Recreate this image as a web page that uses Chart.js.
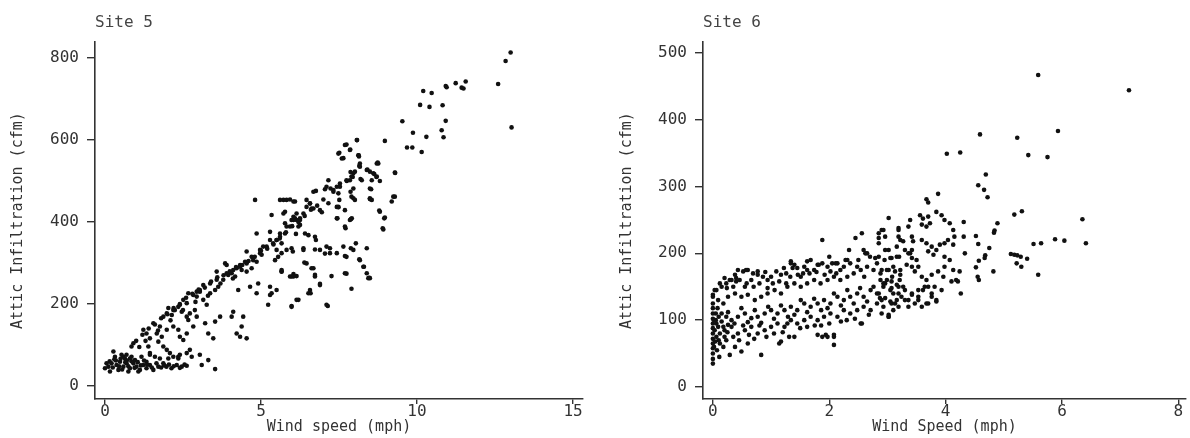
<!DOCTYPE html>
<html>
<head>
<meta charset="utf-8">
<script src="https://cdn.jsdelivr.net/npm/chart.js@4"></script>
<style>
  html, body { margin:0; padding:0; background:#fff; }
  .box { position:absolute; top:0; width:595px; height:438px; }
</style>
</head>
<body>
<div class="box" style="left:0"><canvas id="site5" width="595" height="438"></canvas></div>
<div class="box" style="left:595px"><canvas id="site6" width="595" height="438"></canvas></div>
<script>
// ---- data ----
var site5Title = "Site 5";
var site6Title = "Site 6";
var yTitle = "Attic Infiltration (cfm)";
var site5XTitle = "Wind speed (mph)";
var site6XTitle = "Wind Speed (mph)";

var site5XTicks = [0, 5, 10, 15];
var site5YTicks = [0, 200, 400, 600, 800];
var site6XTicks = [0, 2, 4, 6, 8];
var site6YTicks = [0, 100, 200, 300, 400, 500];

// site 5: [wind speed, infiltration]
var site5Upper = [
  [13.0,814],[12.84,793],[12.6,737],[13.03,631],[11.56,743],[11.43,728],[11.49,726],[11.24,739],[10.95,729],[10.92,732],
  [10.2,720],[10.47,715],[10.1,686],[10.4,681],[10.82,685],[9.53,646],[10.92,647],[10.79,624],[10.85,607],[9.87,618],
  [10.3,608],[9.68,582],[9.85,582],[10.15,571],[8.97,598],[9.3,520],[8.74,545],[8.08,600],[7.74,589],[7.86,577],
  [7.51,569],[7.64,556],[8.13,563],[8.14,560],[8.15,537],[8.41,528],[8.49,523],[8.63,517],[8.7,510],[8.81,500],
  [8.19,505],[7.87,522],[7.94,510],[7.85,502],[7.75,500],[7.53,494],[7.43,486],[7.32,474],[7.23,482],[7.48,470],
  [7.51,454],[7.16,502],[7.05,480],[6.76,476],[6.68,474],[6.46,454],[6.57,446],[6.62,433],[5.72,454],[5.93,455],
  [6.09,450],[7.87,474],[7.96,458],[8.01,454],[8.53,480],[8.49,456],[8.55,454],[9.29,462],[9.19,450],[7.48,436],
  [8.79,428],[8.97,411],[7.91,409],[6.04,413],[6.25,409]
];
var site5Spread = [
  [5.98,195],[6.2,210],[7.14,195],[6.57,234],[6.59,226],[6.89,249],[7.9,237],[7.26,268],[7.74,274],[8.47,264],
  [8.3,291],[8.15,309],[8.04,348],[7.88,336],[8.39,336],[7.69,317],[7.21,336],[7.05,323],[6.73,333],[6.68,287],
  [6.73,271],[6.39,301],[6.36,336],[6.04,273],[6.14,268],[5.93,267],[5.66,279],[6.02,328],[5.82,332],[6.12,371],
  [6.52,368],[6.76,356],[7.45,409],[7.88,407],[7.71,385],[7.48,437],[8.92,382],[6.95,424],[6.68,433],[7.16,446],
  [5.77,425],[6.09,409],[6.2,389]
];
var site5Lower = [
  [0.27,84],[0.11,47],[0.21,55],[0.37,51],[0.48,59],[0.59,47],[0.69,55],[0.8,43],[0.91,55],[1.01,47],
  [1.12,39],[1.23,51],[1.33,43],[1.44,51],[1.55,39],[1.71,47],[1.87,55],[1.97,47],[2.13,43],[2.3,51],
  [2.46,47],[2.62,49],[0.16,35],[0.32,71],[0.43,39],[0.53,76],[0.64,67],[0.75,35],[0.85,71],[0.96,63],
  [1.07,35],[1.17,71],[1.33,59],[1.44,76],[1.6,71],[1.76,67],[2.03,67],[2.35,67],[0.05,55],[0.0,43],
  [0.8,67],[0.69,76],[0.59,71],[0.91,104],[0.85,96],[1.23,137],[1.33,128],[1.44,116],[1.39,96],[1.44,80],
  [1.66,128],[1.82,120],[1.71,108],[1.87,96],[1.98,88],[2.08,80],[2.19,71],[2.35,71],[2.4,76],[1.55,153],
  [1.76,145],[1.98,137],[2.19,145],[2.35,137],[2.4,120],[2.62,128],[2.72,88],[2.62,80],[2.78,71],[3.04,76],
  [3.1,51],[3.31,63],[3.53,41],[2.51,112],[2.67,161],[2.83,145],[2.94,169],[2.03,190],[2.24,185],[2.14,173],
  [2.35,193],[2.46,181],[2.62,169],[2.72,177],[2.67,226],[2.94,218],[3.04,230],[3.15,210],[3.26,198],[3.37,226],
  [2.88,185],[3.21,153],[3.31,128],[3.47,116],[3.53,157],[3.69,169],[3.58,279],[3.37,250],[3.53,234],[3.63,242],
  [3.79,259],[3.95,271],[3.9,295],[4.06,275],[4.22,287],[4.38,283],[4.17,267],[4.27,234],[4.11,181],[4.06,169],
  [4.22,128],[4.33,120],[4.54,116],[4.38,145],[4.65,242],[4.86,226],[4.91,250],[4.43,169],[4.7,287],[4.86,303],
  [5.02,320],[4.97,332],[5.18,340],[5.39,348],[5.5,356],[5.66,348],[5.77,372],[5.93,389],[5.66,279],[6.04,267],
  [6.14,210],[5.98,193],[5.23,198],[5.34,226],[5.5,234],[4.81,454],[5.61,454],[5.82,454],[6.04,450],[5.34,417],
  [5.77,397],[6.04,405],[4.86,372],[5.29,376],[5.61,372],[4.54,328],[4.7,315],[4.49,303],[4.33,295],[4.54,279],
  [3.85,299],[3.58,259],[3.15,246],[3.04,234],[2.94,230],[2.83,222],[2.51,210],[2.62,202],[2.4,198],[2.19,185],
  [1.98,177],[1.87,169]
];
var site5Ridge = [
  [3.9,275],[4.11,283],[4.33,291],[4.54,299],[4.75,307],[4.97,324],[5.07,340],[5.29,356],[5.5,356],[5.61,364],
  [5.82,389],[6.14,405],[6.36,421],[6.46,437],[6.57,445],[6.89,429],[7.1,486],[7.32,478],[7.53,486],[7.74,502],
  [7.96,519],[8.17,535],[8.39,527],[8.6,519],[8.71,543],[6.14,421],[6.25,405],[5.72,421],[5.98,405],[6.25,393],
  [6.41,372],[6.73,364],[6.89,332],[7.1,340],[7.21,324],[7.43,324],[7.64,340],[7.74,315],[7.96,332],[8.17,307],
  [8.28,291],[8.49,263],[6.36,332],[6.46,299],[6.62,287],[6.73,267],[6.89,246],[7.1,198],[7.69,275],[6.52,226],
  [5.98,267],[5.66,283],[5.29,242],[5.29,222],[5.5,332],[5.45,307],[5.55,315],[5.66,324],[5.98,336],[7.43,437],
  [7.69,429],[7.85,405],[7.69,389],[7.43,409],[8.39,275],[8.44,263],[8.9,385],[8.95,409],[8.81,425],[9.24,462],
  [9.29,521],[8.71,511],[8.55,502],[8.49,482],[8.23,502],[8.01,523],[7.9,511],[7.96,482],[7.9,462],[8.49,458],
  [8.07,600],[7.69,588],[7.85,576],[7.48,567],[7.59,555],[8.12,563],[8.17,543],[8.76,543]
];
// extra marks along the dense band and ridge of site 5
var site5Fill = [
  [0.15,60],[0.25,45],[0.35,62],[0.45,48],[0.55,40],[0.65,58],[0.75,48],[0.85,60],[0.95,44],[1.05,58],
  [1.15,50],[1.25,62],[1.35,52],[1.5,45],[1.65,55],[1.8,45],[1.9,50],[2.05,52],[2.2,48],[2.4,44],
  [2.55,52],[0.3,65],[0.5,66],[0.7,62],
  [1.0,110],[1.2,125],[1.4,140],[1.6,150],[1.8,165],[2.0,175],[2.2,190],[2.4,200],[2.6,215],[2.8,225],
  [3.0,235],[3.2,240],[3.4,255],[3.6,265],[3.8,270],[4.0,280],[4.2,290],[4.4,295],[4.6,305],[4.8,315],
  [5.0,330],[5.2,335],[5.4,345],[5.6,360],[5.8,375],[6.0,390],[6.2,400],[6.4,415],[6.6,430],[6.8,440],
  [7.0,455],[1.1,95],[1.3,110],[1.7,135],[2.1,160],[2.5,185],[2.9,205],[3.3,220],[3.7,250],[4.1,262]
];

// site 6: [wind speed, infiltration]
var site6Outer = [
  [5.59,467],[7.15,444],[5.93,383],[5.23,373],[4.59,378],[4.02,349],[4.25,351],[5.42,347],[5.75,344],[4.69,318],
  [4.56,302],[4.66,295],[4.72,284],[3.67,281],[3.7,276],[3.87,289],[5.31,263],[5.18,258],[6.35,251],[6.41,215],
  [5.88,221],[6.04,219],[5.51,214],[5.64,215],[5.59,168],[5.4,192],[5.12,199],[5.18,198],[5.23,197],[5.29,195],
  [5.22,185],[5.3,180],[4.89,245],[4.84,234],[4.83,231],[4.82,173],[4.52,226],[4.56,214],[4.68,197],[4.67,193],
  [4.57,189],[4.52,179],[4.55,165],[4.57,160],[4.75,208],[4.31,247],[4.31,225],[4.33,200],[4.24,173],[4.26,140]
];
var site6Mid = [
  [3.02,253],[2.9,235],[2.96,225],[2.85,215],[3.19,238],[3.19,225],[3.27,218],[3.39,250],[3.36,240],[3.42,225],
  [3.44,218],[3.42,205],[3.39,200],[3.5,190],[3.56,257],[3.61,252],[3.7,255],[3.59,243],[3.67,240],[3.73,245],
  [3.84,262],[3.93,257],[3.98,250],[4.07,245],[4.13,235],[4.15,225],[4.04,220],[3.98,215],[4.13,213],[3.59,220],
  [3.67,215],[3.76,210],[3.84,205],[3.9,213],[3.7,203],[3.79,198],[3.98,195],[4.07,190],[3.98,180],[4.13,175],
  [4.18,160],[4.1,158],[4.21,158],[3.36,200],[3.42,193],[3.33,183],[3.42,180],[3.47,173],[3.53,180],[3.07,193],
  [3.16,195],[3.02,175],[3.13,173],[3.22,168],[2.93,155],[3.07,158],[3.19,150],[3.3,145],[3.42,140],[3.36,130],
  [3.53,135],[3.61,145],[3.7,150],[3.76,140],[3.84,128],[3.67,125],[3.47,125],[3.24,135],[3.07,125],[2.96,133],
  [2.85,140],[3.02,105],[3.19,120],[3.59,165],[3.67,160],[3.76,168],[3.87,173],[3.96,165],[3.81,150],[3.93,145],
  [2.85,195],[2.9,175],[2.88,160],[2.96,205],[2.85,230],[3.84,130],[3.59,120],[3.02,108],[2.96,155],[3.07,148],
  [3.19,140],[3.3,130],[3.42,138],[3.53,145],[3.64,150],[3.76,135],[3.13,125],[3.36,120],[3.7,125],[2.9,130],
  [3.53,130]
];
var site6Low = [
  [0,35],[0,42],[0,50],[0,58],[0,65],[0,72],[0,80],[0,88],[0,95],[0,102],[0,110],[0,118],[0,125],
  [0.03,145],[0.15,150],[0.2,163],[0.29,160],[0.38,168],[0.43,175],[0.52,173],[0.6,175],[0.69,170],[0.77,173],
  [0.86,165],[0.94,160],[1.0,165],[1.09,173],[1.17,168],[1.26,170],[1.34,188],[1.4,183],[1.45,178],[1.57,180],
  [1.68,190],[1.8,183],[1.88,185],[1.97,180],[2.05,185],[2.14,185],[1.88,220],
  [0.09,130],[0.18,125],[0.26,135],[0.38,140],[0.49,135],[0.6,138],[0.72,130],[0.83,135],[0.94,140],[1.06,145],
  [1.17,140],[1.28,150],[1.4,155],[1.51,150],[1.62,155],[1.74,160],[1.85,155],[1.97,160],[2.08,165],[2.19,160],
  [2.31,165],[2.42,170],[2.54,175],[2.65,180],[2.76,175],[2.88,170],[2.99,175],[3.1,180],[3.22,175],
  [0.15,110],[0.23,105],[0.32,100],[0.43,105],[0.55,110],[0.66,103],[0.77,105],[0.89,110],[1.0,115],[1.11,110],
  [1.23,115],[1.34,120],[1.45,115],[1.57,125],[1.68,120],[1.8,125],[1.91,130],[2.02,125],[2.14,135],[2.25,130],
  [2.36,135],[2.48,140],[2.59,135],[2.71,145],[2.82,140],[2.93,150],[3.05,145],[3.16,153],[3.27,150],
  [0.09,90],[0.2,85],[0.32,90],[0.43,80],[0.55,85],[0.66,90],[0.77,80],[0.89,85],[1.0,90],[1.11,95],
  [1.23,90],[1.34,100],[1.45,95],[1.57,100],[1.68,105],[1.8,100],[1.91,105],[2.02,110],[2.14,105],[2.25,115],
  [2.36,110],[2.48,115],[2.59,120],[2.71,115],[2.82,125],[2.93,120],[3.05,128],[3.16,130],
  [0.12,65],[0.23,70],[0.38,60],[0.29,48],[0.49,53],[0.6,65],[0.83,48],[1.17,68],[1.4,75],[1.8,78],
  [1.94,78],[2.08,78],[2.08,63],[2.54,95],[3.02,105],[0.03,85],[0.06,75],[0.12,80],[0.18,90],[0.06,95],
  [0.15,98],[0.2,75],[0.26,93],[2.45,223],[2.56,230],[2.85,223],[2.93,235],[3.02,205],[2.34,205],[2.31,190],
  [2.48,180],[2.59,205],[2.65,200],[2.79,193],[3.05,193],[3.16,210],[3.22,220],[3.19,235],[0,138],[0.4,158],
  [0.55,150],[0.66,160],[0.94,148],[1.26,155],[1.51,165],[1.62,175],[1.74,175],[2.02,173],[2.19,175],[1.37,178],
  [1.14,65],[1.31,75],[1.88,75],[1.97,75],[2.08,75],[2.56,95],[1.34,185],[1.62,188],[1.82,183],[2.11,185],
  [2.28,190],[2.62,200],[0,135],[0.06,145],[0.23,155],[0.32,160],[0.4,163],[0.57,175],[0.77,168]
];
// extra marks in the dark cloud of site 6
var site6Fill = [
  [0.05,100],[0.26,112],[0.37,95],[0.49,118],[0.6,97],[0.72,115],[0.83,96],[0.95,120],[1.05,102],[1.17,122],
  [1.29,105],[1.4,108],[1.51,130],[1.62,112],[1.74,132],[1.86,115],[1.97,118],[2.08,140],[2.2,122],[2.31,145],
  [2.42,125],[2.53,148],[2.65,128],[2.76,150],[2.87,133],[2.99,160],[3.1,140],[3.21,160],
  [0.12,155],[0.24,148],[0.35,150],[0.46,160],[0.58,155],[0.7,150],[0.8,155],[0.9,172],[1.03,155],[1.14,158],
  [1.22,178],[1.33,165],[1.46,168],[1.55,170],[1.66,170],[1.78,172],[1.92,168],[2.0,195],[2.12,170],[2.25,180],
  [2.36,185],[2.5,190],[2.6,165],[2.7,195],[2.82,185],[2.95,190],[3.08,165],[3.2,195],[3.3,205],
  [0.1,70],[0.18,60],[0.25,82],[0.35,75],[0.45,70],[0.52,92],[0.62,78],[0.71,72],[0.8,92],[0.92,75],
  [1.05,80],[1.2,82],[1.28,95],[1.5,88],[1.62,90],[1.75,92],[1.86,92],[2.0,95],[2.2,98],[2.3,100],
  [2.44,102],[2.68,108],[2.9,110],[3.1,115],
  [0.02,60],[0.04,68],[0.05,110],[0.08,118],[0.1,105],[0.02,100],[0.07,55],[0.11,45]
];

var FONT = "'DejaVu Sans Mono', monospace";
var INK = "#333";

function toPoints(list) {
  return list.map(function(p) { return {x:p[0], y:p[1]}; });
}

function MakeScatter({canvasId, title, xTitle, points, xMin, xMax, yMin, yMax, xTicks, yTicks, axisWidth, yTitlePad, rightPad}) {
  return new Chart(document.getElementById(canvasId), {
    type: 'scatter',
    data: {
      datasets: [{
        data: toPoints(points),
        pointRadius: 2.3,
        pointBorderWidth: 0,
        pointBackgroundColor: '#111',
        pointBorderColor: '#111',
      }]
    },
    options: {
      responsive: false,
      animation: false,
      events: [],
      layout: { padding: { left:0, right:rightPad, top:0, bottom:0 } },
      plugins: {
        legend: { display:false },
        tooltip: { enabled:false },
        title: {
          display: true,
          text: title,
          align: 'start',
          fullSize: false,
          color: '#444',
          font: { family: FONT, size: 16, weight: 'normal', lineHeight: 1.2 },
          padding: { top: 13, bottom: 10 },
        },
      },
      scales: {
        x: {
          type: 'linear',
          min: xMin, max: xMax,
          afterBuildTicks: (scale) => { scale.ticks = xTicks.map(v => ({value:v})); },
          afterFit: (scale) => { scale.height = 39; },
          border: { color: INK, width: 1.6 },
          grid: { drawOnChartArea:false, drawTicks:true, tickLength:5, color:INK, lineWidth:1.4 },
          ticks: { color: INK, padding: 0, maxRotation: 0, font: { family: FONT, size: 16, lineHeight: 1 } },
          title: {
            display: true, text: xTitle, color: INK,
            font: { family: FONT, size: 15, lineHeight: 1.2 },
            padding: { top: 0, bottom: 2 },
          },
        },
        y: {
          type: 'linear',
          min: yMin, max: yMax,
          afterBuildTicks: (scale) => { scale.ticks = yTicks.map(v => ({value:v})); },
          afterFit: (scale) => { scale.width = axisWidth; },
          border: { color: INK, width: 1.6 },
          grid: { drawOnChartArea:false, drawTicks:true, tickLength:8, color:INK, lineWidth:1.4 },
          ticks: { color: INK, padding: 8, font: { family: FONT, size: 16, lineHeight: 1 } },
          title: {
            display: true, text: yTitle, color: INK,
            font: { family: FONT, size: 15, lineHeight: 1.2 },
            padding: { top: yTitlePad, bottom: 0 },
          },
        },
      },
    },
  });
}

var chartSite5 = MakeScatter({
  canvasId: 'site5',
  title: site5Title,
  xTitle: site5XTitle,
  points: site5Upper.concat(site5Spread, site5Lower, site5Ridge, site5Fill),
  xMin: -0.32, xMax: 15.32,
  yMin: -32, yMax: 839,
  xTicks: site5XTicks, yTicks: site5YTicks,
  axisWidth: 95, yTitlePad: 9, rightPad: 12,
});

var chartSite6 = MakeScatter({
  canvasId: 'site6',
  title: site6Title,
  xTitle: site6XTitle,
  points: site6Outer.concat(site6Mid, site6Low, site6Fill),
  xMin: -0.17, xMax: 8.13,
  yMin: -18, yMax: 516,
  xTicks: site6XTicks, yTicks: site6YTicks,
  axisWidth: 108, yTitlePad: 23, rightPad: 0,
});
</script>
</body>
</html>
